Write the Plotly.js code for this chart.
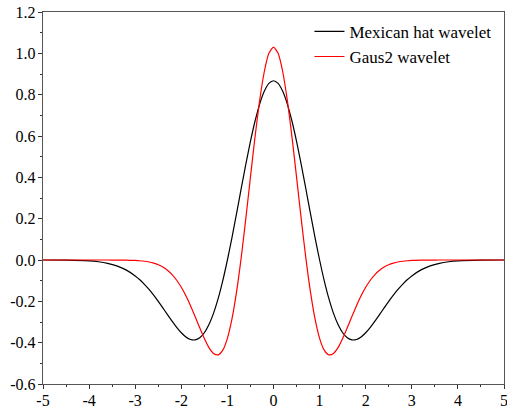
<!DOCTYPE html>
<html>
<head>
<meta charset="utf-8">
<script src="https://cdn.plot.ly/plotly-3.0.1.min.js"></script>
<style>html,body{margin:0;padding:0;background:#fff;}#chart{width:507px;height:409px;}</style>
</head>
<body>
<div id="chart"></div>
<script>
// sample positions (x)
const xs = [-5,-4.5,-4,-3.8,-3.6,-3.4,-3.2,-3.0,-2.9,-2.8,-2.7,-2.6,-2.5,-2.4,-2.3,-2.2,-2.1,-2.0,-1.9,-1.8,-1.7,-1.6,-1.5,-1.4,-1.3,-1.2,-1.1,-1.0,-0.9,-0.8,-0.7,-0.6,-0.5,-0.4,-0.3,-0.2,-0.1,0,
            0.1,0.2,0.3,0.4,0.5,0.6,0.7,0.8,0.9,1.0,1.1,1.2,1.3,1.4,1.5,1.6,1.7,1.8,1.9,2.0,2.1,2.2,2.3,2.4,2.5,2.6,2.7,2.8,2.9,3.0,3.2,3.4,3.6,3.8,4,4.5,5];
const mexicanHat = [-0.0001,-0.0007,-0.0044,-0.0085,-0.0159,-0.0283,-0.0479,-0.0771,-0.0959,-0.1177,-0.1425,-0.1701,-0.2001,-0.2317,-0.2642,-0.2961,-0.3261,-0.3521,-0.3723,-0.3845,-0.3864,-0.3762,-0.3520,-0.3125,-0.2571,-0.1857,-0.0995,0,0.1099,0.2267,0.3462,0.4636,0.5740,0.6725,0.7545,0.8161,0.8543,0.8673,
            0.8543,0.8161,0.7545,0.6725,0.5740,0.4636,0.3462,0.2267,0.1099,0,-0.0995,-0.1857,-0.2571,-0.3125,-0.3520,-0.3762,-0.3864,-0.3845,-0.3723,-0.3521,-0.3261,-0.2961,-0.2642,-0.2317,-0.2001,-0.1701,-0.1425,-0.1177,-0.0959,-0.0771,-0.0479,-0.0283,-0.0159,-0.0085,-0.0044,-0.0007,-0.0001];
const gaus2 = [0,0,0,0,-0.0001,-0.0002,-0.0007,-0.0022,-0.0036,-0.0060,-0.0096,-0.0150,-0.0229,-0.0342,-0.0498,-0.0707,-0.0980,-0.1321,-0.1734,-0.2211,-0.2738,-0.3282,-0.3802,-0.4239,-0.4526,-0.4590,-0.4364,-0.3791,-0.2842,-0.1521,0.0126,0.2013,0.4013,0.5971,0.7723,0.9109,0.9998,1.0305,
            0.9998,0.9109,0.7723,0.5971,0.4013,0.2013,0.0126,-0.1521,-0.2842,-0.3791,-0.4364,-0.4590,-0.4526,-0.4239,-0.3802,-0.3282,-0.2738,-0.2211,-0.1734,-0.1321,-0.0980,-0.0707,-0.0498,-0.0342,-0.0229,-0.0150,-0.0096,-0.0060,-0.0036,-0.0022,-0.0007,-0.0002,-0.0001,0,0,0,0];
const seriesNames = ['Mexican hat wavelet','Gaus2 wavelet'];
const xTickVals = [-5,-4,-3,-2,-1,0,1,2,3,4,5];
const xTickText = ['-5','-4','-3','-2','-1','0','1','2','3','4','5'];
const yTickVals = [-0.6,-0.4,-0.2,0,0.2,0.4,0.6,0.8,1.0,1.2];
const yTickText = ['-0.6','-0.4','-0.2','0.0','0.2','0.4','0.6','0.8','1.0','1.2'];

const fam = 'Liberation Serif';
const tickFont = {family:fam, size:16, color:'#000'};
const legFont = {family:fam, size:17, color:'#000'};
const traces = [
  {x:xs, y:mexicanHat, name:seriesNames[0], mode:'lines', line:{color:'#000', width:1.2, shape:'spline', smoothing:0.6}},
  {x:xs, y:gaus2, name:seriesNames[1], mode:'lines', line:{color:'#ff0000', width:1.2, shape:'spline', smoothing:0.6}}
];
const axisCommon = {showgrid:false, zeroline:false, showline:true, linecolor:'#555', linewidth:1.3, mirror:true,
  ticks:'outside', ticklen:4, tickwidth:1, tickcolor:'#333', tickfont:tickFont, tickmode:'array', ticklabeloverflow:'allow'};
const layout = {
  width:507, height:409,
  margin:{l:43, r:3, t:12, b:25, pad:0},
  paper_bgcolor:'#fff', plot_bgcolor:'#fff',
  font:tickFont,
  showlegend:true,
  legend:{x:0.578, y:0.995, xanchor:'left', yanchor:'top', bgcolor:'rgba(0,0,0,0)', font:legFont, tracegroupgap:0, itemwidth:30},
  xaxis:Object.assign({}, axisCommon, {range:[-5,5], tickvals:xTickVals, ticktext:xTickText, ticklabelstandoff:-3,
    minor:{tickmode:'linear', tick0:-5, dtick:0.5, ticks:'outside', ticklen:2, tickcolor:'#333'}}),
  yaxis:Object.assign({}, axisCommon, {range:[-0.6,1.2], tickvals:yTickVals, ticktext:yTickText, ticklabelstandoff:-1,
    minor:{tickmode:'linear', tick0:-0.6, dtick:0.1, ticks:'outside', ticklen:2, tickcolor:'#333'}})
};
Plotly.newPlot('chart', traces, layout, {displayModeBar:false, staticPlot:true});
</script>
</body>
</html>
